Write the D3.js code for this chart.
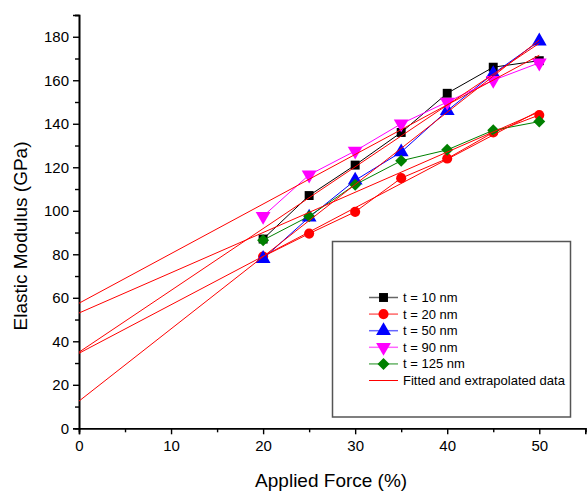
<!DOCTYPE html>
<html>
<head>
<meta charset="utf-8">
<script src="https://cdn.jsdelivr.net/npm/d3@7"></script>
<style>
  body { margin: 0; background: #fff; }
  svg text { font-family: "Liberation Sans", Arial, sans-serif; }
</style>
</head>
<body>
<div id="chart"></div>
<script>
// data
const force = [20, 25, 30, 35, 40, 45, 50]
const seriesNames = ["t = 10 nm", "t = 20 nm", "t = 50 nm", "t = 90 nm", "t = 125 nm"]
const t10 = [87, 107, 121, 136, 154, 166, 169]
const t20 = [79, 89.5, 99.5, 115, 124, 136, 144]
const t50 = [78, 97, 114, 127, 146, 163, 178]
const t90 = [97.5, 116.5, 127.5, 140, 150, 160, 168]
const t125 = [86.5, 97.5, 112, 123, 128, 137, 141]
// fitted lines: value at 0 % and at 50 %
const fitX = [0, 50]
const fitStart = [35, 34.5, 12.5, 57.5, 53]
const fitEnd = [177, 146, 178.5, 171.5, 145.5]
const xTicks = [0, 10, 20, 30, 40, 50]
const yTicks = [0, 20, 40, 60, 80, 100, 120, 140, 160, 180]
const fitLabel = "Fitted and extrapolated data"

const seriesValues = [t10, t20, t50, t90, t125]
const colors = ["#000000", "#ff0000", "#0000ff", "#ff00ff", "#008000"]
const symbols = [d3.symbolSquare, d3.symbolCircle, d3.symbolTriangle, d3.symbolTriangle, d3.symbolSquare]
const symSize = [80, 80, 95, 95, 72]
const symRot = [0, 0, 0, 180, 45]

const width = 588, height = 492

const svg = d3.select("#chart")
  .append("svg")
  .attr("width", width)
  .attr("height", height)

const x = d3.scaleLinear().domain([0, 55]).range([79, 585.3])
const y = d3.scaleLinear().domain([0, 190]).range([428.3, 15])

// axes
const xAxis = svg.append("g").attr("transform", `translate(0, ${y(0)})`)
xAxis.call(d3.axisBottom(x).tickValues(d3.range(5, 60, 10)).tickSize(4).tickFormat(""))
xAxis.call(g => g.append("g").call(d3.axisBottom(x).tickValues(xTicks).tickSize(6).tickPadding(6)))
xAxis.selectAll(".domain").attr("stroke-width", 1.6)
xAxis.selectAll("line").attr("stroke-width", 1.4)
xAxis.selectAll("text").attr("font-size", 15).attr("fill", "#000")

const yAxis = svg.append("g").attr("transform", `translate(${x(0)}, 0)`)
yAxis.call(d3.axisLeft(y).tickValues(d3.range(10, 200, 20)).tickSize(4).tickFormat(""))
yAxis.call(g => g.append("g").call(d3.axisLeft(y).tickValues(yTicks).tickSize(6).tickPadding(4)))
yAxis.selectAll(".domain").attr("stroke-width", 1.6)
yAxis.selectAll("line").attr("stroke-width", 1.4)
yAxis.selectAll("text").attr("font-size", 15).attr("fill", "#000")

svg.append("text")
  .attr("x", (x(0) + x(55)) / 2 - 1)
  .attr("y", 487)
  .attr("text-anchor", "middle")
  .attr("font-size", 19)
  .text("Applied Force (%)")

svg.append("text")
  .attr("transform", `translate(27, 236) rotate(-90)`)
  .attr("text-anchor", "middle")
  .attr("font-size", 19)
  .text("Elastic Modulus (GPa)")

// data lines + markers
const line = d3.line().x((d, i) => x(force[i])).y(d => y(d))

seriesValues.forEach((vals, s) => {
  svg.append("path")
    .attr("d", line(vals))
    .attr("fill", "none")
    .attr("stroke", colors[s])
    .attr("stroke-width", 1)

  svg.append("g")
    .selectAll("path")
    .data(vals)
    .join("path")
    .attr("d", d3.symbol().type(symbols[s]).size(symSize[s]))
    .attr("transform", (d, i) => `translate(${x(force[i])}, ${y(d)}) rotate(${symRot[s]})`)
    .attr("fill", colors[s])
})

// fitted lines on top
fitStart.forEach((v0, s) => {
  svg.append("line")
    .attr("x1", x(fitX[0])).attr("y1", y(v0))
    .attr("x2", x(fitX[1])).attr("y2", y(fitEnd[s]))
    .attr("stroke", "#ff0000")
    .attr("stroke-width", 1)
})

// legend
const legend = svg.append("g")
legend.append("rect")
  .attr("x", 332.5).attr("y", 241.5)
  .attr("width", 238).attr("height", 175.5)
  .attr("fill", "#fff")
  .attr("stroke", "#555")
  .attr("stroke-width", 1.5)

seriesNames.forEach((name, s) => {
  const ly = 297.5 + s * 16.6
  legend.append("line")
    .attr("x1", 369).attr("x2", 398)
    .attr("y1", ly).attr("y2", ly)
    .attr("stroke", colors[s])
    .attr("stroke-opacity", 0.6)
    .attr("stroke-width", 1.5)
  legend.append("path")
    .attr("d", d3.symbol().type(symbols[s]).size(symSize[s]))
    .attr("transform", `translate(383.5, ${ly}) rotate(${symRot[s]})`)
    .attr("fill", colors[s])
  legend.append("text")
    .attr("x", 403).attr("y", ly + 4.5)
    .attr("font-size", 13)
    .text(name)
})

const fy = 297.5 + 5 * 16.6
legend.append("line")
  .attr("x1", 369).attr("x2", 398)
  .attr("y1", fy).attr("y2", fy)
  .attr("stroke", "#ff0000")
  .attr("stroke-width", 1)
legend.append("text")
  .attr("x", 403).attr("y", fy + 4.5)
  .attr("font-size", 13)
  .text(fitLabel)
</script>
</body>
</html>
